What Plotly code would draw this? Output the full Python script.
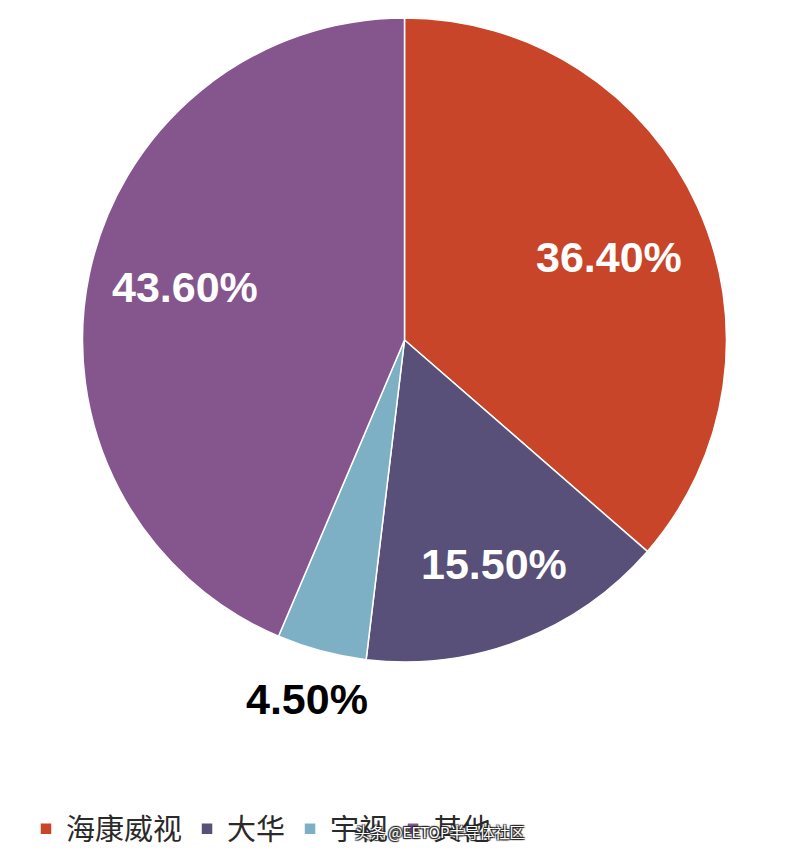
import math
import plotly.graph_objects as go

labels = ["海康威视", "大华", "宇视", "其他"]
values = [36.4, 15.5, 4.5, 43.6]
text_labels = ["36.40%", "15.50%", "4.50%", "43.60%"]
colors = ["#C8452A", "#585078", "#7EB0C5", "#84568D"]
label_radius = [0.685, 0.748, 1.154, 0.701]
label_angle_shift = [2.4, -0.8, 0.2, 2.1]
label_color = ["white", "white", "black", "white"]

W, H = 800, 867
OFF = 8  # page body margin
cx, cy, R = 404.5 - OFF, 340 - OFF, 322

fig = go.Figure(go.Pie(
    labels=labels, values=values, sort=False, direction="clockwise", rotation=0,
    marker=dict(colors=colors, line=dict(color="white", width=1.5)),
    textinfo="none", hoverinfo="label+percent",
    domain=dict(x=[(cx - R) / W, (cx + R) / W], y=[1 - (cy + R) / H, 1 - (cy - R) / H]),
))

total = sum(values)
cum = 0
anns = []
for v, t, r, sh, c in zip(values, text_labels, label_radius, label_angle_shift, label_color):
    mid = (cum + v / 2) / total * 2 * math.pi + math.radians(sh)
    cum += v
    px = cx + r * R * math.sin(mid)
    py = cy - r * R * math.cos(mid)
    anns.append(dict(x=px / W, y=1 - py / H, xref="paper", yref="paper", text=t, showarrow=False,
                     font=dict(family="Liberation Sans, Arial", size=43, color=c, weight="bold"),
                     xanchor="center", yanchor="middle"))

anns.append(dict(x=(353 - OFF) / W, y=1 - (831 - OFF) / H, xref="paper", yref="paper",
                 text="头条 @EETOP半导体社区",
                 showarrow=False, xanchor="left", yanchor="middle",
                 font=dict(family="Noto Sans CJK SC", size=15, color="white",
                           shadow="1px 1px 1px #222, -1px -1px 1px #222, 1px -1px 1px #222, -1px 1px 1px #222")))

fig.update_layout(
    width=W, height=H, margin=dict(l=0, r=0, t=0, b=0),
    paper_bgcolor="white", plot_bgcolor="white",
    annotations=anns,
    showlegend=True,
    legend=dict(orientation="h", x=(26 - OFF) / W, y=1 - (829 - OFF) / H, yanchor="middle", xanchor="left",
                font=dict(family="Noto Sans CJK SC", size=29, color="#2a2a2a"),
                itemwidth=30, tracegroupgap=0),
)
fig.write_html("out.html")
